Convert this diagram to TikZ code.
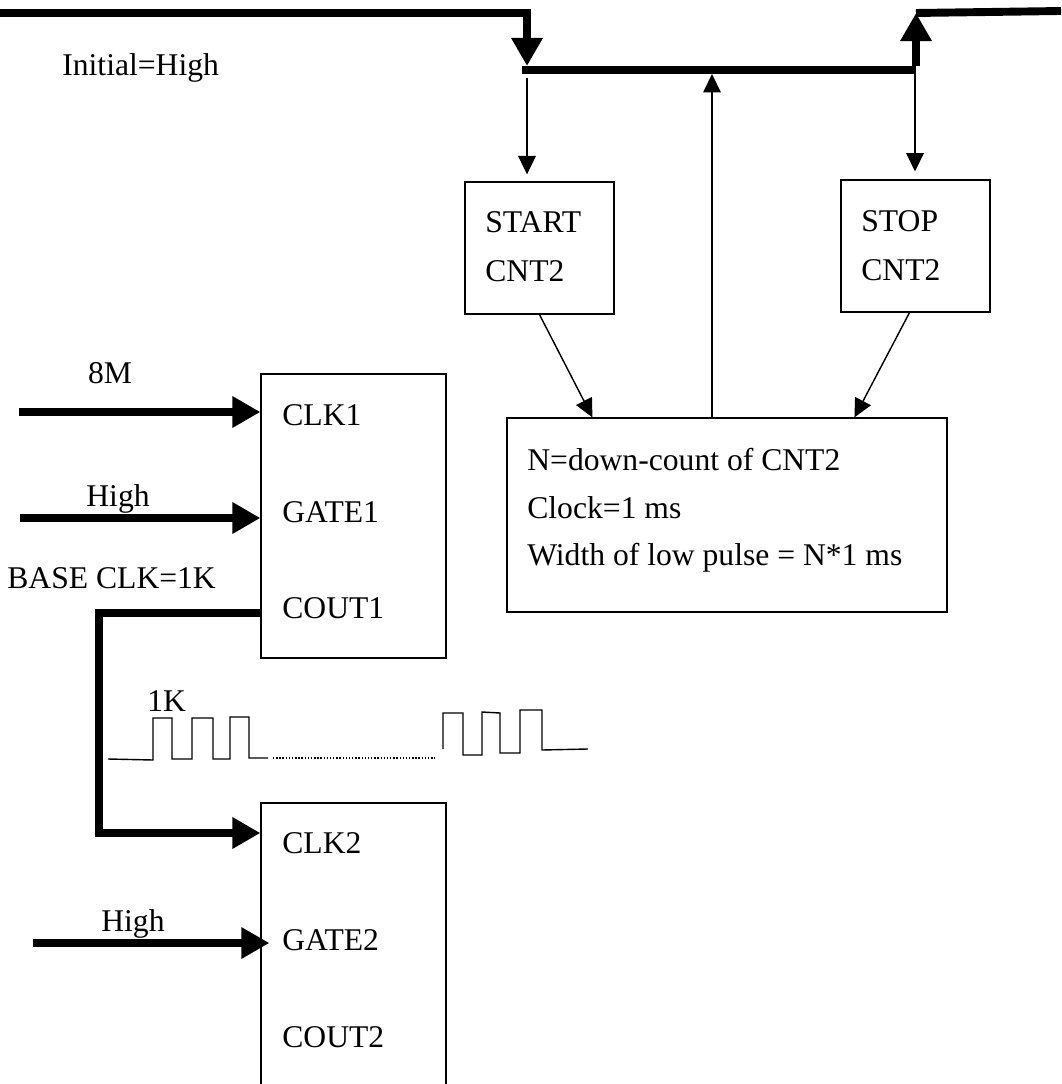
\documentclass[tikz,border=0pt]{standalone}
\usepackage{fontspec}
\setmainfont{Liberation Serif}
\usetikzlibrary{arrows.meta, positioning, calc}
\tikzset{
  box/.style  = {draw, line width=0.7pt, inner sep=0pt},
  lbl/.style  = {inner sep=0pt, anchor=base west, font=\fontsize{18}{22}\selectfont},
  clbl/.style = {lbl, anchor=base},
  bus/.style  = {line width=4.5pt},
  pin/.style  = {line width=4.5pt, -{Triangle[length=16pt, width=17pt]}},
  sig/.style  = {line width=0.8pt, -{Triangle[length=10.5pt, width=10pt]}},
  wave/.style = {line width=0.8pt},
}

\begin{document}
\begin{tikzpicture}[x=0.02cm, y=-0.02cm]
  \useasboundingbox (0,0) rectangle (1061,1084);

  % counters and control boxes
  \node[box, minimum width=3.7cm, minimum height=5.68cm] (cnt1) at (353.5,516) {};
  \node[box, minimum width=3.7cm, minimum height=6cm]    (cnt2) at (353.5,953) {};
  \node[box, minimum width=2.98cm, minimum height=2.64cm] (start) at (539.5,248) {};
  \node[box, minimum width=2.98cm, minimum height=2.64cm] (stop)  at (915.5,246) {};
  \node[box, minimum width=8.8cm, minimum height=3.88cm]  (count) at (727,515) {};

  % texts
  \node[lbl] (init)  at (62,76)   {Initial=High};
  \node[lbl] (startA) at (485,233) {START};
  \node[lbl] (startB) at (485,281) {CNT2};
  \node[lbl] (stopA)  at (861,232) {STOP};
  \node[lbl] (stopB)  at (861,280) {CNT2};
  \node[lbl] (cntA) at (527,470) {N=down-count of CNT2};
  \node[lbl] (cntB) at (527,518) {Clock=1 ms};
  \node[lbl] (cntC) at (527,565) {Width of low pulse = N*1 ms};
  \node[lbl] (clk1)  at (282,425) {CLK1};
  \node[lbl] (gate1) at (282,522) {GATE1};
  \node[lbl] (cout1) at (282,618) {COUT1};
  \node[lbl] (clk2)  at (282,853) {CLK2};
  \node[lbl] (gate2) at (282,950) {GATE2};
  \node[lbl] (cout2) at (282,1047) {COUT2};
  \node[clbl] (f8M)   at (110,383) {8M};
  \node[clbl] (high1) at (118,506) {High};
  \node[lbl]  (base)  at (7,588)   {BASE CLK=1K};
  \node[lbl]  (f1K)   at (147,711) {1K};
  \node[lbl]  (high2) at (101,931) {High};

  % output level: high, low while counting, high again
  \coordinate (hiL)  at (0,13);
  \coordinate (fall) at (527,13);
  \coordinate (barL) at (522,70);
  \coordinate (barR) at (916,70);
  \coordinate (rise) at (916,13);
  \coordinate (hiR)  at (1061,11);
  \draw[pin] (hiL) -- (fall) -- ($(fall)+(0,53)$);
  \draw[bus] (barL) -- (barR);
  \draw[pin] ($(barR)+(0,-4)$) -- (rise);
  \draw[bus] (rise) -- (hiR);

  % taps on the low level
  \coordinate (tapS) at (527,78);
  \coordinate (tapM) at (712,74);
  \coordinate (tapT) at (915,74);
  \draw[sig, shorten >=4pt] (tapS) -- (tapS |- start.north);
  \draw[sig] (tapM |- count.north) -- (tapM);
  \draw[sig, shorten >=4.5pt] (tapT) -- (tapT |- stop.north);
  \draw[sig] (start.south) -- ($(count.north west)+(86,0)$);
  \draw[sig] ($(stop.south)+(-6,0)$) -- ($(count.north west)+(348,0)$);

  % counter 1 inputs
  \coordinate (in8M)  at (19,412);
  \coordinate (inHi1) at (20,518);
  \draw[pin] (in8M) -- (in8M -| cnt1.west);
  \draw[pin] (inHi1) -- (inHi1 -| cnt1.west);

  % COUT1 -> CLK2
  \coordinate (turnA) at (99,613);
  \coordinate (turnB) at (99,833);
  \draw[pin] (turnA -| cnt1.west) -- (turnA) -- (turnB) -- (turnB -| cnt2.west);

  % counter 2 gate
  \coordinate (inHi2) at (33,943);
  \draw[pin] (inHi2) -- ($(inHi2 -| cnt2.west)+(9,0)$);

  % 1K pulse train
  \draw[wave] (108,759) -- (153,760) -- (153,718) -- (172,718) -- (172,759)
    -- (192,759) -- (192,718) -- (213,718) -- (213,759) -- (230,759)
    -- (230,717) -- (249,717) -- (249,758) -- (268,758);
  \draw[wave, densely dotted] (273,758) -- (435,758);
  \draw[wave] (443,749) -- (443,713) -- (463,713) -- (463,755) -- (482,755)
    -- (482,712) -- (500,713) -- (500,753) -- (520,753) -- (520,710)
    -- (542,710) -- (542,750) -- (588,749);
\end{tikzpicture}
\end{document}
